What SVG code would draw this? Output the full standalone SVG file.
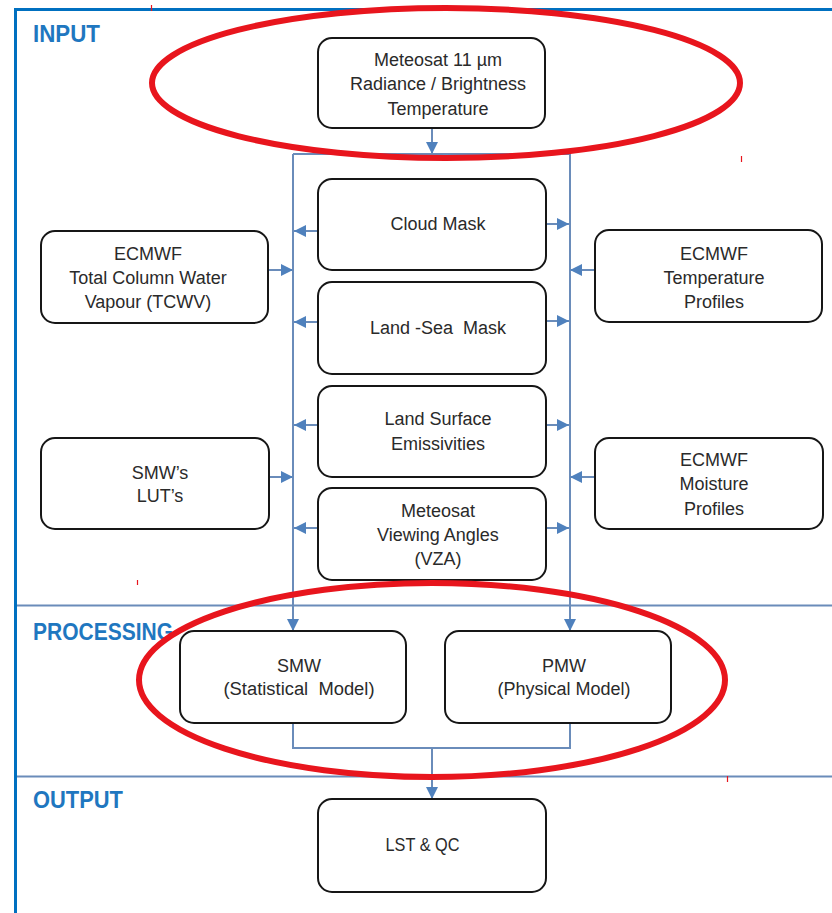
<svg xmlns="http://www.w3.org/2000/svg" width="832" height="913" viewBox="0 0 832 913">
<style>
.box{fill:#fff;stroke:#161616;stroke-width:2}
.t{font-family:"Liberation Sans",Arial,sans-serif;font-size:18px;fill:#2a2a2a;text-anchor:middle;white-space:pre}
.h{font-family:"Liberation Sans",Arial,sans-serif;font-size:24px;font-weight:bold;fill:#1f77c0}
.c{fill:none;stroke:#6a8cba;stroke-width:2}
.ca{fill:none;stroke:#6a8cba;stroke-width:2;marker-end:url(#ah)}
.div{stroke:#6a8cba;stroke-width:2}
.ring{fill:none;stroke:#e8151d;stroke-width:6}
.tick{stroke:#e8151d;stroke-width:1.2}
</style>
<defs>
<marker id="ah" markerUnits="userSpaceOnUse" markerWidth="12" markerHeight="12" refX="12" refY="6" orient="auto">
<path d="M0,0 L12,6 L0,12 z" fill="#4f81bd"/>
</marker>
</defs>
<rect width="832" height="913" fill="#fff"/>
<g id="frame">
<path d="M15.5,913 V9.5 H832" fill="none" stroke="#0070c0" stroke-width="3"/>
<line class="div" x1="17" y1="605.5" x2="832" y2="605.5"/>
<line class="div" x1="17" y1="776.5" x2="832" y2="776.5"/>
<text class="h" x="33" y="42" textLength="67" lengthAdjust="spacingAndGlyphs">INPUT</text>
<text class="h" x="33" y="640" textLength="140" lengthAdjust="spacingAndGlyphs">PROCESSING</text>
<text class="h" x="33" y="808" textLength="90" lengthAdjust="spacingAndGlyphs">OUTPUT</text>
</g>
<g id="connectors">
<path class="ca" d="M432,128 V154"/>
<path class="c" d="M293,154 H570"/>
<path class="ca" d="M293,154 V631"/>
<path class="ca" d="M570,154 V631"/>
<path class="ca" d="M268,270 H293"/>
<path class="ca" d="M595,270 H570"/>
<path class="ca" d="M269,477 H293"/>
<path class="ca" d="M595,477 H570"/>
<path class="ca" d="M318,231 H294"/>
<path class="ca" d="M546,224 H569"/>
<path class="ca" d="M318,322 H294"/>
<path class="ca" d="M546,321 H569"/>
<path class="ca" d="M318,425 H294"/>
<path class="ca" d="M546,425 H569"/>
<path class="ca" d="M318,528 H294"/>
<path class="ca" d="M546,528 H569"/>
<path class="c" d="M293,723 V748 H570 V723"/>
<path class="ca" d="M432,748 V799"/>
</g>
<g id="meteosat">
<rect class="box" x="318" y="38" width="227" height="90" rx="14"/>
<text class="t" x="438" y="65.5">Meteosat 11 µm</text>
<text class="t" x="438" y="90">Radiance / Brightness</text>
<text class="t" x="438" y="114.5">Temperature</text>
</g>
<g id="cloud-mask">
<rect class="box" x="318" y="179" width="228" height="91" rx="14"/>
<text class="t" x="438" y="230">Cloud Mask</text>
</g>
<g id="land-sea-mask">
<rect class="box" x="318" y="282" width="228" height="92" rx="14"/>
<text class="t" x="438" y="334">Land -Sea  Mask</text>
</g>
<g id="emissivities">
<rect class="box" x="318" y="386" width="228" height="91" rx="14"/>
<text class="t" x="438" y="425">Land Surface</text>
<text class="t" x="438" y="450">Emissivities</text>
</g>
<g id="viewing-angles">
<rect class="box" x="318" y="488" width="228" height="92" rx="14"/>
<text class="t" x="438" y="517">Meteosat</text>
<text class="t" x="438" y="541">Viewing Angles</text>
<text class="t" x="438" y="565">(VZA)</text>
</g>
<g id="tcwv">
<rect class="box" x="41" y="231" width="227" height="92" rx="14"/>
<text class="t" x="148" y="259.5">ECMWF</text>
<text class="t" x="148" y="283.5">Total Column Water</text>
<text class="t" x="148" y="307.5">Vapour (TCWV)</text>
</g>
<g id="temperature">
<rect class="box" x="595" y="230" width="227" height="92" rx="14"/>
<text class="t" x="714" y="259.5">ECMWF</text>
<text class="t" x="714" y="283.5">Temperature</text>
<text class="t" x="714" y="307.5">Profiles</text>
</g>
<g id="smw-luts">
<rect class="box" x="41" y="438" width="228" height="91" rx="14"/>
<text class="t" x="160" y="478.5">SMW’s</text>
<text class="t" x="160" y="502">LUT’s</text>
</g>
<g id="moisture">
<rect class="box" x="595" y="438" width="228" height="91" rx="14"/>
<text class="t" x="714" y="466">ECMWF</text>
<text class="t" x="714" y="490">Moisture</text>
<text class="t" x="714" y="514.5">Profiles</text>
</g>
<g id="smw">
<rect class="box" x="180" y="631" width="226" height="92" rx="14"/>
<text class="t" x="299" y="672">SMW</text>
<text class="t" x="299" y="695" textLength="151" lengthAdjust="spacingAndGlyphs">(Statistical  Model)</text>
</g>
<g id="pmw">
<rect class="box" x="445" y="631" width="226" height="92" rx="14"/>
<text class="t" x="564" y="672">PMW</text>
<text class="t" x="564" y="695" textLength="133" lengthAdjust="spacingAndGlyphs">(Physical Model)</text>
</g>
<g id="lst-qc">
<rect class="box" x="318" y="799" width="228" height="93" rx="14"/>
<text class="t" x="422.5" y="851" textLength="74" lengthAdjust="spacingAndGlyphs">LST &amp; QC</text>
</g>
<g id="highlights">
<ellipse class="ring" cx="446" cy="83" rx="294" ry="75"/>
<ellipse class="ring" cx="432" cy="680" rx="293" ry="97"/>
<line class="tick" x1="151.5" y1="5" x2="151.5" y2="11"/>
<line class="tick" x1="741.5" y1="156" x2="741.5" y2="162"/>
<line class="tick" x1="137.5" y1="580" x2="137.5" y2="585"/>
<line class="tick" x1="727.5" y1="776" x2="727.5" y2="782"/>
</g>
</svg>
